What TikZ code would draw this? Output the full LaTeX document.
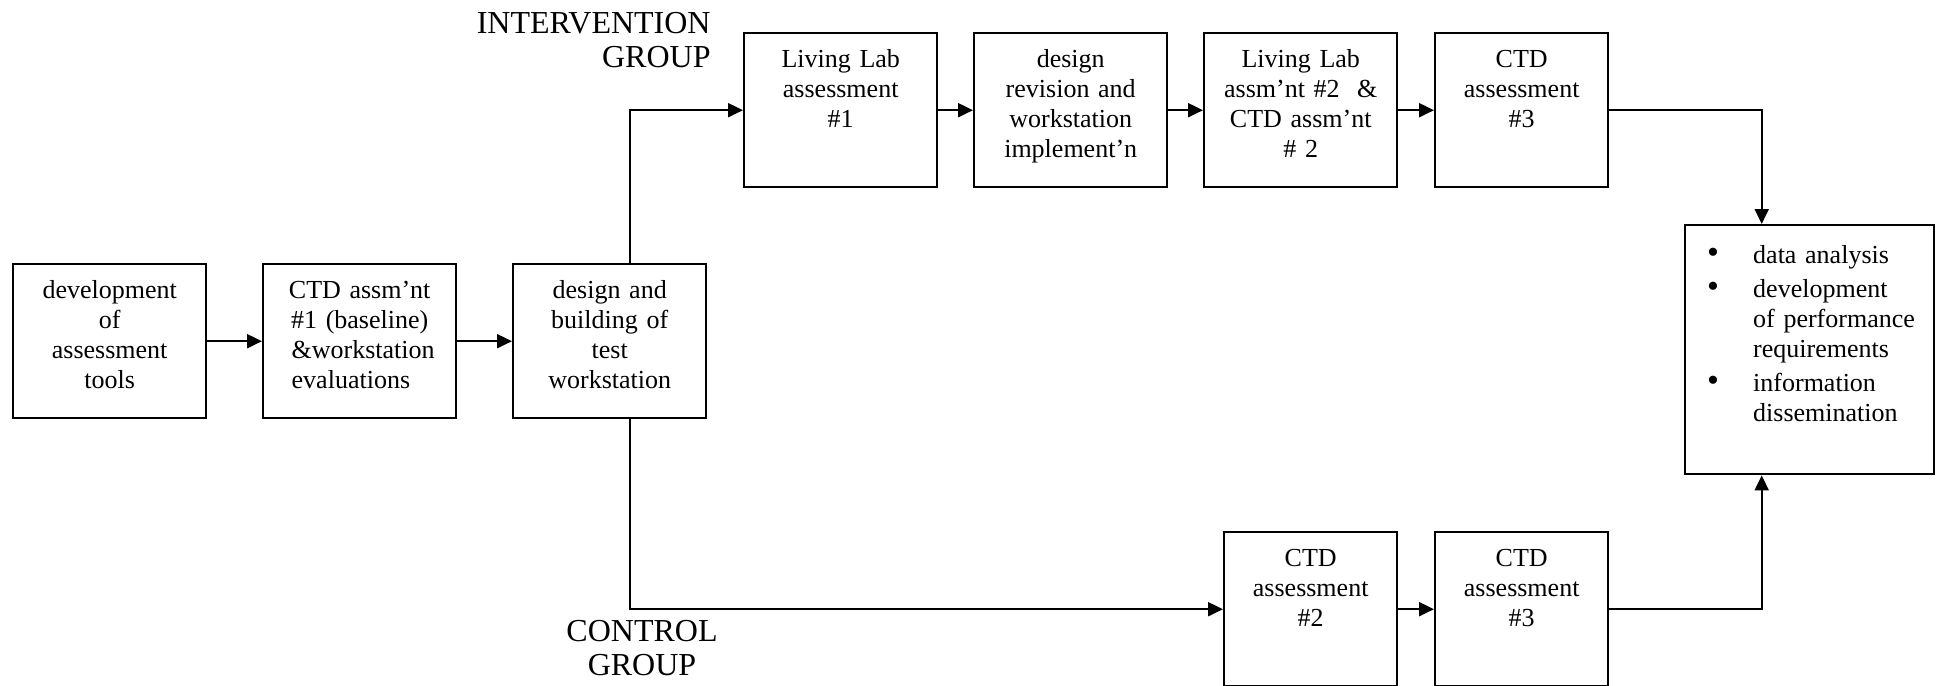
\documentclass[tikz,border=0pt]{standalone}
\usepackage{fontspec}
\setmainfont{Liberation Serif}
\usetikzlibrary{arrows.meta}

\tikzset{
  stepbox/.style={draw, line width=1.2pt, anchor=north west, inner xsep=0pt, inner ysep=0pt,
    align=center, font=\fontsize{13pt}{15pt}\selectfont, text height=17pt, text depth=60pt},
  widebox/.style={stepbox, text width=96.5pt},
  narrowbox/.style={stepbox, text width=86.5pt},
  resultbox/.style={draw, line width=1.2pt, anchor=north west, inner xsep=11pt, inner ysep=0pt,
    text width=102.5pt, align=left, font=\fontsize{13pt}{15pt}\selectfont,
    text height=19pt, text depth=105.5pt},
  grouplabel/.style={inner sep=0pt, font=\fontsize{16pt}{17.2pt}\selectfont},
  flow/.style={line width=1pt, -{Triangle[length=7.5pt, width=7pt]}}
}
\newcommand{\dotitem}{\makebox[23pt][l]{\fontsize{17pt}{15pt}\selectfont\textbullet}}

\begin{document}
\begin{tikzpicture}[x=0.5pt, y=-0.5pt]
  \useasboundingbox (0,0) rectangle (1937,685);

  % common start
  \node[widebox] (tools) at (12,263) {development\\of\\assessment\\tools};
  \node[widebox] (base) at (262,263) {CTD assm’nt\\\#1 (baseline)\\
    \makebox[68pt][l]{\&workstation}\\\makebox[68pt][l]{evaluations}};
  \node[widebox] (build) at (512,263) {design and\\building of\\test\\workstation};

  % intervention group
  \node[grouplabel, anchor=north east, align=right] (intv) at (711,12) {INTERVENTION\\GROUP};
  \node[widebox] (lab1) at (743,32) {Living Lab\\assessment\\\#1};
  \node[widebox] (revise) at (973,32) {design\\revision and\\workstation\\implement’n};
  \node[widebox] (lab2) at (1203,32) {Living Lab\\assm’nt \#2~~\&\\CTD assm’nt\\\# 2};
  \node[narrowbox] (ctdi) at (1434,32) {CTD\\assessment\\\#3};

  % control group
  \node[grouplabel, anchor=north, align=center] (ctrl) at (642,620) {CONTROL\\GROUP};
  \node[narrowbox] (ctd2) at (1223,531) {CTD\\assessment\\\#2};
  \node[narrowbox] (ctd3) at (1434,531) {CTD\\assessment\\\#3};

  \node[resultbox] (result) at (1684,224) {%
    \dotitem data analysis\\[2pt]
    \dotitem development\\
    \hspace*{23pt}\mbox{of performance}\\
    \hspace*{23pt}requirements\\[2pt]
    \dotitem information\\
    \hspace*{23pt}dissemination};

  \draw[flow] (tools) -- (base);
  \draw[flow] (base) -- (build);
  \draw[flow] ([xshift=10pt]build.north) |- (lab1);
  \draw[flow] ([xshift=10pt]build.south) |- (ctd2);
  \draw[flow] (lab1) -- (revise);
  \draw[flow] (revise) -- (lab2);
  \draw[flow] (lab2) -- (ctdi);
  \draw[flow] (ctd2) -- (ctd3);
  \draw[flow] (ctdi) -| ([xshift=-24pt]result.north);
  \draw[flow] (ctd3) -| ([xshift=-24pt]result.south);
\end{tikzpicture}
\end{document}
